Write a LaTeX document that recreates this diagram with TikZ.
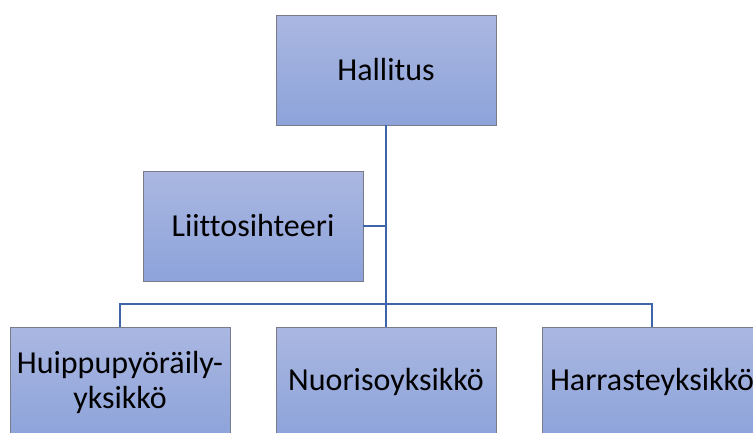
\documentclass[tikz,border=0pt]{standalone}
\usepackage{fontspec}
\setmainfont{Carlito}[Ligatures=NoCommon]
\definecolor{boxtop}{RGB}{170,183,225}
\definecolor{boxbot}{RGB}{141,163,218}
\definecolor{boxline}{RGB}{120,124,138}
\definecolor{linkc}{RGB}{63,101,169}
\tikzset{b/.style={draw=boxline,line width=0.8pt,top color=boxtop,bottom color=boxbot,
  minimum width=220pt,minimum height=110pt,inner sep=0pt,align=center,
  font=\fontsize{32}{35}\selectfont}}
\tikzset{l/.style={draw=linkc,line width=2pt}}

\begin{document}
\begin{tikzpicture}[x=1pt,y=-1pt]
  \useasboundingbox (0,0) rectangle (753,432);
  \clip (0,0) rectangle (753,432);
  \node[b] (hal) at (386,70) {Hallitus};
  \node[b] (lii) at (253,226) {Liittosihteeri};
  \node[b] (huip) at (120,382) {Huippupyöräily-\\yksikkö};
  \node[b] (nuo) at (386,382) {Nuorisoyksikkö};
  \node[b] (har) at (652,382) {Harrasteyksikkö};
  \coordinate (bus) at (386,304);
  % connectors
  \draw[l] (hal.south) -- (nuo.north);
  \draw[l] (lii.east) -- (lii.east -| hal.south);
  \draw[l] (huip.north) |- (bus) -| (har.north);
\end{tikzpicture}
\end{document}
